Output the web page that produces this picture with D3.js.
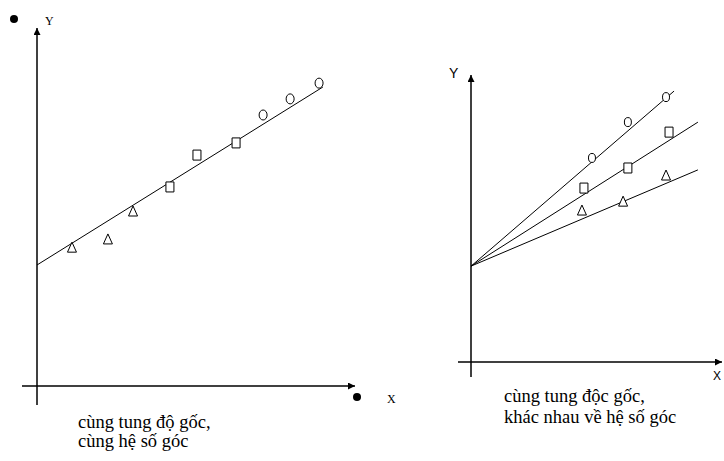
<!DOCTYPE html>
<html>
<head>
<meta charset="utf-8">
<script src="https://cdn.jsdelivr.net/npm/d3@7"></script>
<style>
  body { margin: 0; background: #fff; }
  .serif { font-family: "Liberation Serif", "Times New Roman", serif; }
  .sans { font-family: "Liberation Sans", Arial, sans-serif; }
</style>
</head>
<body>
<svg id="chart" width="724" height="461"></svg>
<script>
// left panel: one common line (same intercept, same slope)
const leftTriangles = [[11.0, 38.5], [22.3, 40.8], [30.2, 48.6]];
const leftSquares = [[41.8, 55.6], [50.3, 64.5], [62.6, 67.9]];
const leftCircles = [[71.1, 75.7], [79.6, 80.2], [88.7, 84.6]];
const leftLine = { intercept: 33.8, slope: 0.553, xEnd: 89.9 };
const leftCaption = ["cùng tung độ gốc,", "cùng hệ số góc"];

// right panel: same intercept, different slopes
const rightCircles = [[48.2, 71.1], [62.5, 83.6], [77.7, 92.3]];
const rightSquares = [[45.0, 60.6], [62.5, 67.6], [78.9, 80.1]];
const rightTriangles = [[44.2, 52.6], [60.6, 55.7], [77.7, 64.8]];
const rightIntercept = 33.4;
const rightSlopes = [0.754, 0.555, 0.371];
const rightXEnds = [80.9, 90.4, 90.4];
const rightCaption = ["cùng tung độc gốc,", "khác nhau về hệ số góc"];

const svg = d3.select("#chart");

const defs = svg.append("defs");
defs.append("marker")
    .attr("id", "arrow")
    .attr("viewBox", "0 0 10 10")
    .attr("refX", 10).attr("refY", 5)
    .attr("markerWidth", 7).attr("markerHeight", 7)
    .attr("markerUnits", "userSpaceOnUse")
    .attr("orient", "auto")
    .append("path")
    .attr("d", "M0,0L10,5L0,10Z")
    .attr("fill", "#000");

const markPath = {
    triangle: (x, y) => `M${x},${y - 6}L${x + 4.5},${y + 4}L${x - 4.5},${y + 4}Z`,
    square: (x, y) => `M${x - 4},${y - 5}h8v10h-8Z`,
};

function drawMarks(g, pts, type, sx, sy, rx, ry) {
    if (type === "circle") {
        g.selectAll(null).data(pts).enter().append("ellipse")
            .attr("cx", d => sx(d[0])).attr("cy", d => sy(d[1]))
            .attr("rx", rx).attr("ry", ry)
            .attr("fill", "#fff").attr("stroke", "#000").attr("stroke-width", 1);
    } else {
        g.selectAll(null).data(pts).enter().append("path")
            .attr("d", d => markPath[type](sx(d[0]), sy(d[1])))
            .attr("fill", "#fff").attr("stroke", "#000").attr("stroke-width", 1);
    }
}

function drawAxes(g, sx, sy, over) {
    const [x0, x1] = sx.range();
    const [y0, y1] = sy.range();
    g.append("line")
        .attr("x1", x0).attr("y1", y0 + over.down)
        .attr("x2", x0).attr("y2", y1)
        .attr("stroke", "#000").attr("stroke-width", 1.5)
        .attr("marker-end", "url(#arrow)");
    g.append("line")
        .attr("x1", x0 - over.left).attr("y1", y0)
        .attr("x2", x1).attr("y2", y0)
        .attr("stroke", "#000").attr("stroke-width", 1.5)
        .attr("marker-end", "url(#arrow)");
}

// ---- left panel
const lx = d3.scaleLinear([0, 100], [37, 355]);
const ly = d3.scaleLinear([0, 100], [386, 28]);
const left = svg.append("g");
drawAxes(left, lx, ly, { down: 19, left: 15 });

const line = d3.line().x(d => lx(d[0])).y(d => ly(d[1]));
left.append("path")
    .attr("d", line([[0, leftLine.intercept], [leftLine.xEnd, leftLine.intercept + leftLine.slope * leftLine.xEnd]]))
    .attr("fill", "none").attr("stroke", "#000").attr("stroke-width", 1);

drawMarks(left, leftTriangles, "triangle", lx, ly);
drawMarks(left, leftSquares, "square", lx, ly);
drawMarks(left, leftCircles, "circle", lx, ly, 4, 5);

left.append("circle").attr("cx", 14).attr("cy", 19).attr("r", 4).attr("fill", "#000");
left.append("text").attr("class", "serif").attr("x", 45).attr("y", 25)
    .attr("font-size", 12).text("Y");
left.append("circle").attr("cx", 357).attr("cy", 397).attr("r", 4).attr("fill", "#000");
left.append("text").attr("class", "serif").attr("x", 387).attr("y", 403)
    .attr("font-size", 12).text("X");

left.append("text").attr("class", "serif").attr("font-size", 18.5)
    .selectAll("tspan").data(leftCaption).enter().append("tspan")
    .attr("x", 78).attr("y", (d, i) => 428 + i * 19).text(d => d);

// ---- right panel
const rx = d3.scaleLinear([0, 100], [471, 722]);
const ry = d3.scaleLinear([0, 100], [362, 75]);
const right = svg.append("g");
drawAxes(right, rx, ry, { down: 15, left: 13 });

const rline = d3.line().x(d => rx(d[0])).y(d => ry(d[1]));
right.selectAll(null).data(rightSlopes).enter().append("path")
    .attr("d", (s, i) => rline([[0, rightIntercept], [rightXEnds[i], rightIntercept + s * rightXEnds[i]]]))
    .attr("fill", "none").attr("stroke", "#000").attr("stroke-width", 1);

drawMarks(right, rightCircles, "circle", rx, ry, 3.5, 4.5);
drawMarks(right, rightSquares, "square", rx, ry);
drawMarks(right, rightTriangles, "triangle", rx, ry);

right.append("text").attr("class", "sans").attr("x", 449).attr("y", 78)
    .attr("font-size", 14).text("Y");
right.append("text").attr("class", "sans").attr("x", 713).attr("y", 380)
    .attr("font-size", 12).text("X");

right.append("text").attr("class", "serif").attr("font-size", 18.5)
    .selectAll("tspan").data(rightCaption).enter().append("tspan")
    .attr("x", 504).attr("y", (d, i) => 402 + i * 21).text(d => d);
</script>
</body>
</html>
